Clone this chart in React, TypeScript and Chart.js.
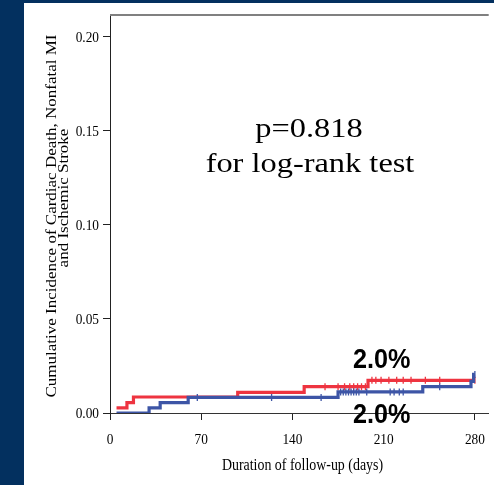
import React, { useEffect, useRef } from "react";
import { Chart, registerables } from "chart.js";

Chart.register(...registerables);

// Cumulative incidence per group: value holds from each event time onward
const RED_TIMES = [5, 13, 18, 98, 149, 198, 280];
const RED_CUM = [0.0027, 0.0055, 0.0085, 0.011, 0.014, 0.0174, 0.0174];
const BLUE_TIMES = [5, 30, 38.5, 60, 175, 240, 277, 279, 280];
const BLUE_CUM = [0, 0.0027, 0.0055, 0.0083, 0.0112, 0.014, 0.0168, 0.0205, 0.0205];

// censored observations (days)
const RED_CENSOR = [165, 175, 180, 184, 187, 190, 193, 196, 201, 204, 208, 214, 220, 225, 231, 242, 253, 280];
const BLUE_CENSOR = [67, 124, 162, 177, 179, 181, 183, 185, 187, 189, 191, 197, 215, 218, 222, 225, 253, 280];

const X_TICKS = [0, 70, 140, 210, 280];
const Y_TICKS = [0, 0.05, 0.1, 0.15, 0.2];

const P_TEXT = ["p=0.818", "for log-rank test"];
const END_LABELS = ["2.0%", "2.0%"];
const Y_TITLE = ["Cumulative Incidence of Cardiac Death, Nonfatal MI", "and Ischemic Stroke"];
const X_TITLE = "Duration of follow-up (days)";

const RED = "#ee3440";
const BLUE = "#3d55a6";
const NAVY = "#03305f";

const stepAt = (times: number[], vals: number[], t: number) => {
  let v = vals[0];
  for (let i = 0; i < times.length; i++) if (times[i] <= t) v = vals[i];
  return v;
};

const toPoints = (times: number[], vals: number[]) => times.map((t, i) => ({ x: t, y: vals[i] }));

function text(ctx: CanvasRenderingContext2D, s: string, x: number, y: number, font: string, sx: number, align: CanvasTextAlign) {
  ctx.save();
  ctx.translate(x, y);
  ctx.scale(sx, 1);
  ctx.font = font;
  ctx.textAlign = align;
  ctx.textBaseline = "alphabetic";
  ctx.fillStyle = "#000";
  ctx.fillText(s, 0, 0);
  ctx.restore();
}

function vtext(ctx: CanvasRenderingContext2D, s: string, x: number, y: number, font: string, sy: number) {
  ctx.save();
  ctx.translate(x, y);
  ctx.rotate(-Math.PI / 2);
  ctx.scale(1, sy);
  ctx.font = font;
  ctx.textAlign = "center";
  ctx.textBaseline = "alphabetic";
  ctx.fillStyle = "#000";
  ctx.fillText(s, 0, 0);
  ctx.restore();
}

const decor = {
  id: "decor",
  beforeDatasetsDraw(chart: any) {
    const { ctx, chartArea } = chart;
    ctx.save();
    ctx.strokeStyle = "#808080";
    ctx.lineWidth = 2;
    ctx.beginPath();
    ctx.moveTo(chartArea.left, chartArea.top);
    ctx.lineTo(chartArea.right, chartArea.top);
    ctx.stroke();
    ctx.restore();
  },
  afterDraw(chart: any) {
    const { ctx, scales } = chart;
    const xs = scales.x;
    const ys = scales.y;
    const serif = "'Liberation Serif', 'Times New Roman', serif";
    for (const v of Y_TICKS) {
      text(ctx, v.toFixed(2), ys.left + 75, ys.getPixelForValue(v) + 5, `15.5px ${serif}`, 0.86, "right");
    }
    for (const v of X_TICKS) {
      text(ctx, String(v), xs.getPixelForValue(v), 440.5, `15.5px ${serif}`, 0.86, "center");
    }
    text(ctx, X_TITLE, 278.5, 467, `16px ${serif}`, 0.87, "center");
    vtext(ctx, Y_TITLE[0], 31.5, 213, `17px ${serif}`, 0.84);
    vtext(ctx, Y_TITLE[1], 43.5, 195, `17px ${serif}`, 0.84);
    text(ctx, P_TEXT[0], 285, 133.7, `27px ${serif}`, 1.2, "center");
    text(ctx, P_TEXT[1], 286, 168.7, `27px ${serif}`, 1.2, "center");
    const sans = "bold 28px 'Liberation Sans', Arial, sans-serif";
    text(ctx, END_LABELS[0], 357.7, 365, sans, 0.9, "center");
    text(ctx, END_LABELS[1], 357.7, 420, sans, 0.9, "center");
  },
};

export default function App() {
  const ref = useRef<HTMLCanvasElement>(null);

  useEffect(() => {
    if (!ref.current) return;
    const censor = (times: number[], vals: number[], days: number[]) =>
      days.map((d) => ({ x: d, y: stepAt(times, vals, d) }));

    const stepLine = (times: number[], vals: number[], color: string) => ({
      data: toPoints(times, vals),
      borderColor: color,
      borderWidth: 3.2,
      stepped: "before",
      pointRadius: 0,
      fill: false,
      borderJoinStyle: "miter",
    });
    const marks = (times: number[], vals: number[], days: number[], color: string) => ({
      data: censor(times, vals, days),
      showLine: false,
      pointStyle: "line",
      rotation: 90,
      pointRadius: 3.5,
      borderColor: color,
      pointBorderWidth: 1.3,
    });

    const chart = new Chart(ref.current, {
      type: "line",
      data: {
        datasets: [
          stepLine(BLUE_TIMES, BLUE_CUM, BLUE),
          marks(BLUE_TIMES, BLUE_CUM, BLUE_CENSOR, BLUE),
          stepLine(RED_TIMES, RED_CUM, RED),
          marks(RED_TIMES, RED_CUM, RED_CENSOR, RED),
        ],
      } as any,
      options: {
        animation: false,
        responsive: false,
        maintainAspectRatio: false,
        events: [],
        layout: { padding: { top: 12, left: 0, right: 0, bottom: 0 } },
        plugins: { legend: { display: false }, tooltip: { enabled: false } },
        scales: {
          x: {
            type: "linear",
            min: 0,
            max: 290.6,
            afterBuildTicks: (s: any) => {
              s.ticks = X_TICKS.map((v) => ({ value: v }));
            },
            afterFit: (s: any) => {
              s.height = 72;
            },
            ticks: { display: false },
            grid: { drawOnChartArea: false, drawTicks: true, tickLength: 7, tickColor: "#222" },
            border: { color: "#333", width: 1 },
          },
          y: {
            type: "linear",
            min: 0,
            max: 0.2117,
            afterBuildTicks: (s: any) => {
              s.ticks = Y_TICKS.map((v) => ({ value: v }));
            },
            afterFit: (s: any) => {
              s.width = 86;
            },
            ticks: { display: false },
            grid: { drawOnChartArea: false, drawTicks: true, tickLength: 7, tickColor: "#222" },
            border: { color: "#222", width: 1 },
          },
        },
      } as any,
      plugins: [decor],
    });
    return () => chart.destroy();
  }, []);

  return (
    <div style={{ position: "fixed", left: 0, top: 0, width: 494, height: 485, background: NAVY }}>
      <div style={{ position: "absolute", left: 24, top: 3, width: 470, height: 482, background: "#fff" }}>
        <canvas ref={ref} width={470} height={482} style={{ display: "block" }} />
      </div>
    </div>
  );
}
